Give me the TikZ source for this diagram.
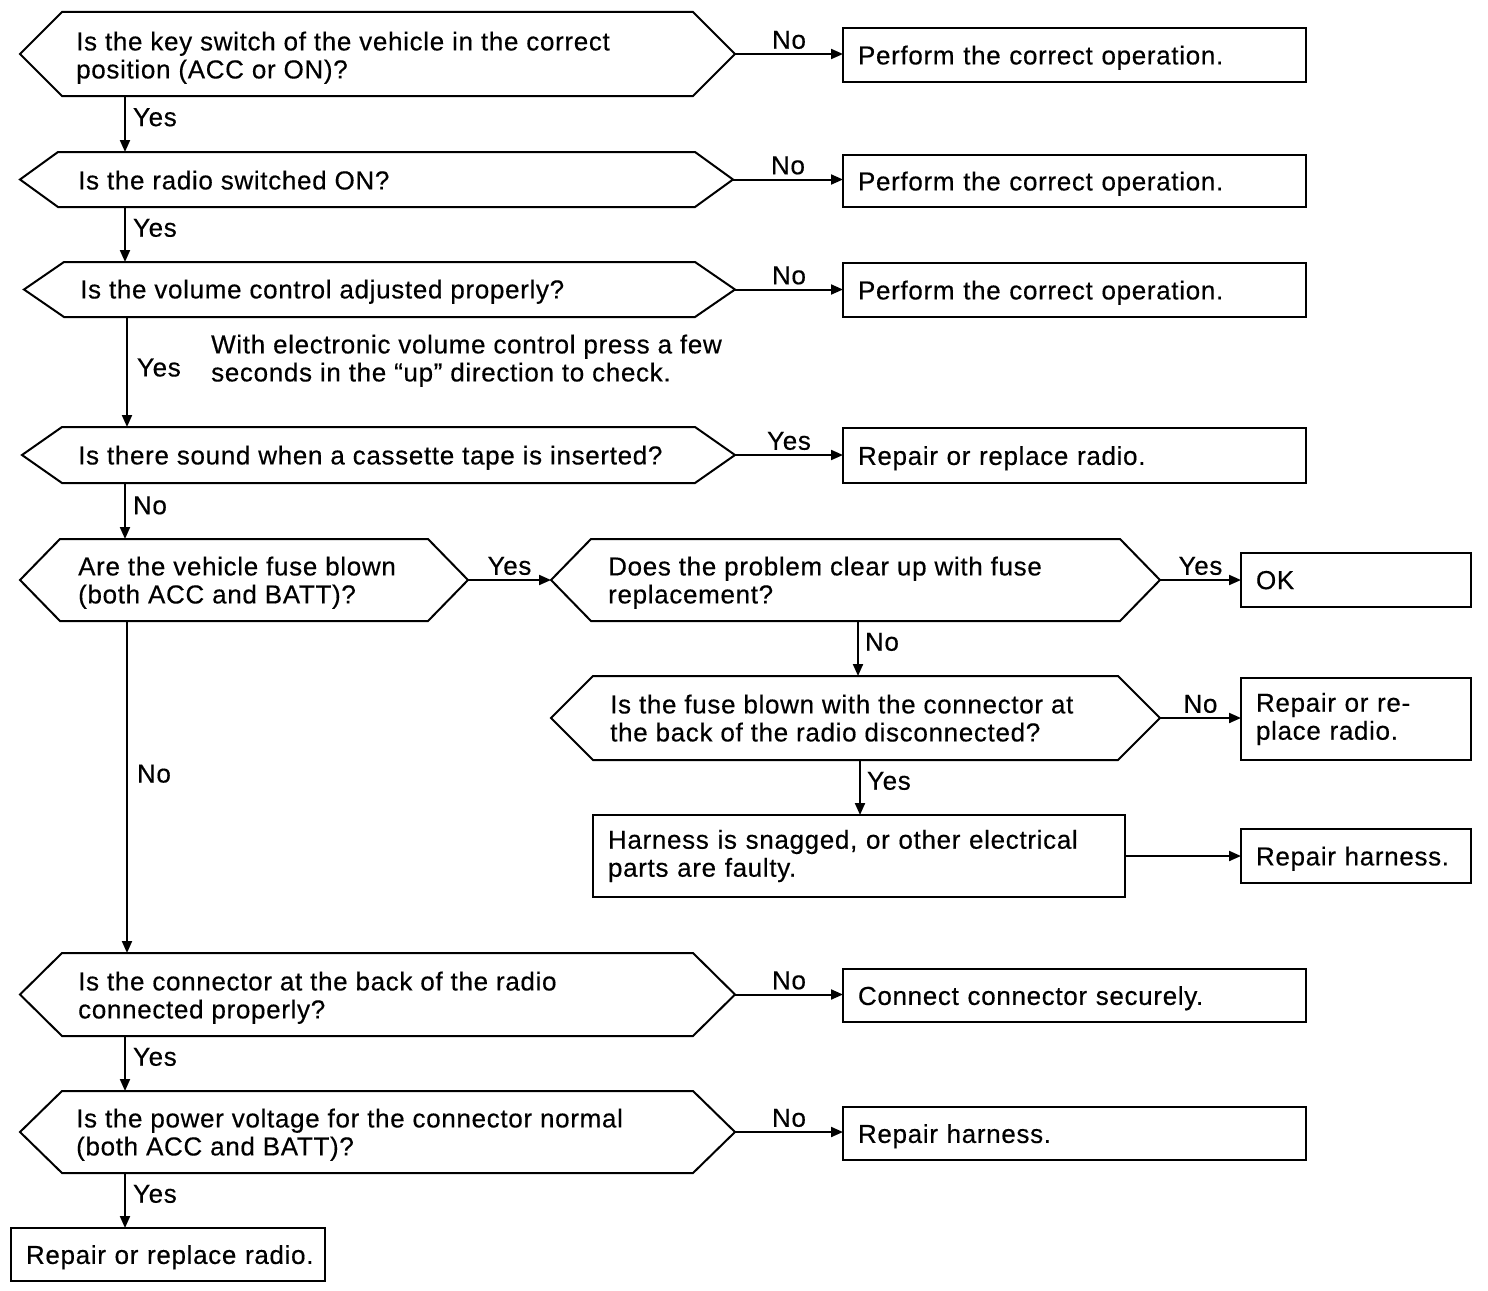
\documentclass[tikz,border=0pt]{standalone}
\usepackage{fontspec}
\setmainfont{Liberation Sans}[LetterSpace=2.6,FakeBold=0.4]
\usetikzlibrary{arrows.meta}
\newcommand\decision[6]{%
  \node[dshape, minimum width=#4, minimum height=#5] (#1) at (#2,#3) {};
  \draw[dline] (#1.west) -- ([xshift=#6]#1.north west) -- ([xshift=-#6]#1.north east) -- (#1.east) -- ([xshift=-#6]#1.south east) -- ([xshift=#6]#1.south west) -- cycle;}
\begin{document}
\begin{tikzpicture}[x=1pt,y=-1pt,
  font=\fontsize{26}{28}\selectfont,
  dshape/.style={inner sep=0pt, outer sep=0pt, anchor=north west},
  dline/.style={line width=2pt, line join=miter},
  boxm/.style={draw, line width=2.6pt, inner xsep=15pt, inner ysep=0pt, outer sep=0pt, anchor=north west, align=left},
  box/.style={boxm, text depth=0pt},
  txt/.style={anchor=west, align=left, inner sep=0pt, text depth=0pt},
  arr/.style={line width=2pt, -{Triangle[length=12pt,width=10pt]}},
  lab/.style={inner sep=0pt}]
\useasboundingbox (0,0) rectangle (1488,1290);

% row 1
\decision{d1}{20}{12}{715}{84}{42}
\node[txt] (d1t) at (76,55) {Is the key switch of the vehicle in the correct\\position (ACC or ON)?};
\node[box, text width=433, minimum height=54] (b1) at (843,28) {Perform the correct operation.};
\draw[arr] (d1.east) -- (d1.east -| b1.west) node[lab, midway, above=4pt] {No};

% row 2
\decision{d2}{20}{152}{713}{55}{38}
\node[txt] (d2t) at (78,180) {Is the radio switched ON?};
\node[box, text width=433, minimum height=52] (b2) at (843,155) {Perform the correct operation.};
\draw[arr] (d2.east) -- (d2.east -| b2.west) node[lab, midway, above=4pt] {No};
\draw[arr] ([xshift=105]d1.south west) -- ([xshift=105]d2.north west) node[lab, pos=0.38, anchor=west, xshift=7pt] {Yes};

% row 3
\decision{d3}{24}{262}{711}{55}{40}
\node[txt] (d3t) at (80,289) {Is the volume control adjusted properly?};
\node[box, text width=433, minimum height=54] (b3) at (843,263) {Perform the correct operation.};
\draw[arr] (d3.east) -- (d3.east -| b3.west) node[lab, midway, above=4pt] {No};
\draw[arr] ([xshift=105]d2.south west) -- ([xshift=101]d3.north west) node[lab, pos=0.38, anchor=west, xshift=7pt] {Yes};
\node[txt] (note) at (211,358) {With electronic volume control press a few\\seconds in the “up” direction to check.};

% row 4
\decision{d4}{22}{427}{713}{56}{40}
\node[txt] (d4t) at (78,455) {Is there sound when a cassette tape is inserted?};
\node[box, text width=433, minimum height=55] (b4) at (843,428) {Repair or replace radio.};
\draw[arr] (d4.east) -- (d4.east -| b4.west) node[lab, midway, above=4pt] {Yes};
\draw[arr] ([xshift=103]d3.south west) -- ([xshift=105]d4.north west) node[lab, pos=0.46, anchor=west, xshift=9pt] {Yes};

% row 5
\decision{d5}{20}{539}{448}{82}{40}
\node[txt] (d5t) at (78,580) {Are the vehicle fuse blown\\(both ACC and BATT)?};
\draw[arr] ([xshift=103]d4.south west) -- ([xshift=105]d5.north west) node[lab, pos=0.4, anchor=west, xshift=7pt] {No};
\decision{d6}{551}{539}{609}{82}{40}
\node[txt] (d6t) at (608,580) {Does the problem clear up with fuse\\replacement?};
\draw[arr] (d5.east) -- (d6.west) node[lab, midway, above=4pt] {Yes};
\node[box, text width=200, minimum height=54] (ok) at (1241,553) {OK};
\draw[arr] (d6.east) -- (d6.east -| ok.west) node[lab, midway, above=4pt] {Yes};

% row 6
\decision{d7}{551}{676}{609}{84}{42}
\node[txt] (d7t) at (610,718) {Is the fuse blown with the connector at\\the back of the radio disconnected?};
\draw[arr] ([xshift=307]d6.south west) -- ([xshift=307]d7.north west) node[lab, pos=0.38, anchor=west, xshift=6pt] {No};
\node[boxm, text width=200, minimum height=82] (rr) at (1241,678) {Repair or re-\\place radio.};
\draw[arr] (d7.east) -- (d7.east -| rr.west) node[lab, midway, above=4pt] {No};

% row 7
\node[boxm, text width=502, minimum height=82] (h) at (593,815) {Harness is snagged, or other electrical\\parts are faulty.};
\draw[arr] ([xshift=309]d7.south west) -- ([xshift=267]h.north west) node[lab, pos=0.38, anchor=west, xshift=6pt] {Yes};
\node[box, text width=200, minimum height=54] (rh) at (1241,829) {Repair harness.};
\draw[arr] (h.east) -- (h.east -| rh.west);

% row 8
\decision{d8}{20}{953}{715}{83}{42}
\node[txt] (d8t) at (78,995) {Is the connector at the back of the radio\\connected properly?};
\draw[arr] ([xshift=107]d5.south west) -- ([xshift=107]d8.north west) node[lab, pos=0.46, anchor=west, xshift=9pt] {No};
\node[box, text width=433, minimum height=53] (b8) at (843,969) {Connect connector securely.};
\draw[arr] (d8.east) -- (d8.east -| b8.west) node[lab, midway, above=4pt] {No};

% row 9
\decision{d9}{20}{1091}{715}{82}{42}
\node[txt] (d9t) at (76,1132) {Is the power voltage for the connector normal\\(both ACC and BATT)?};
\draw[arr] ([xshift=105]d8.south west) -- ([xshift=105]d9.north west) node[lab, pos=0.38, anchor=west, xshift=7pt] {Yes};
\node[box, text width=433, minimum height=53] (b9) at (843,1107) {Repair harness.};
\draw[arr] (d9.east) -- (d9.east -| b9.west) node[lab, midway, above=4pt] {No};

% final
\node[box, text width=284, minimum height=53] (f) at (11,1228) {\mbox{Repair or replace radio.}};
\draw[arr] ([xshift=105]d9.south west) -- ([xshift=114]f.north west) node[lab, pos=0.38, anchor=west, xshift=7pt] {Yes};
\end{tikzpicture}
\end{document}
